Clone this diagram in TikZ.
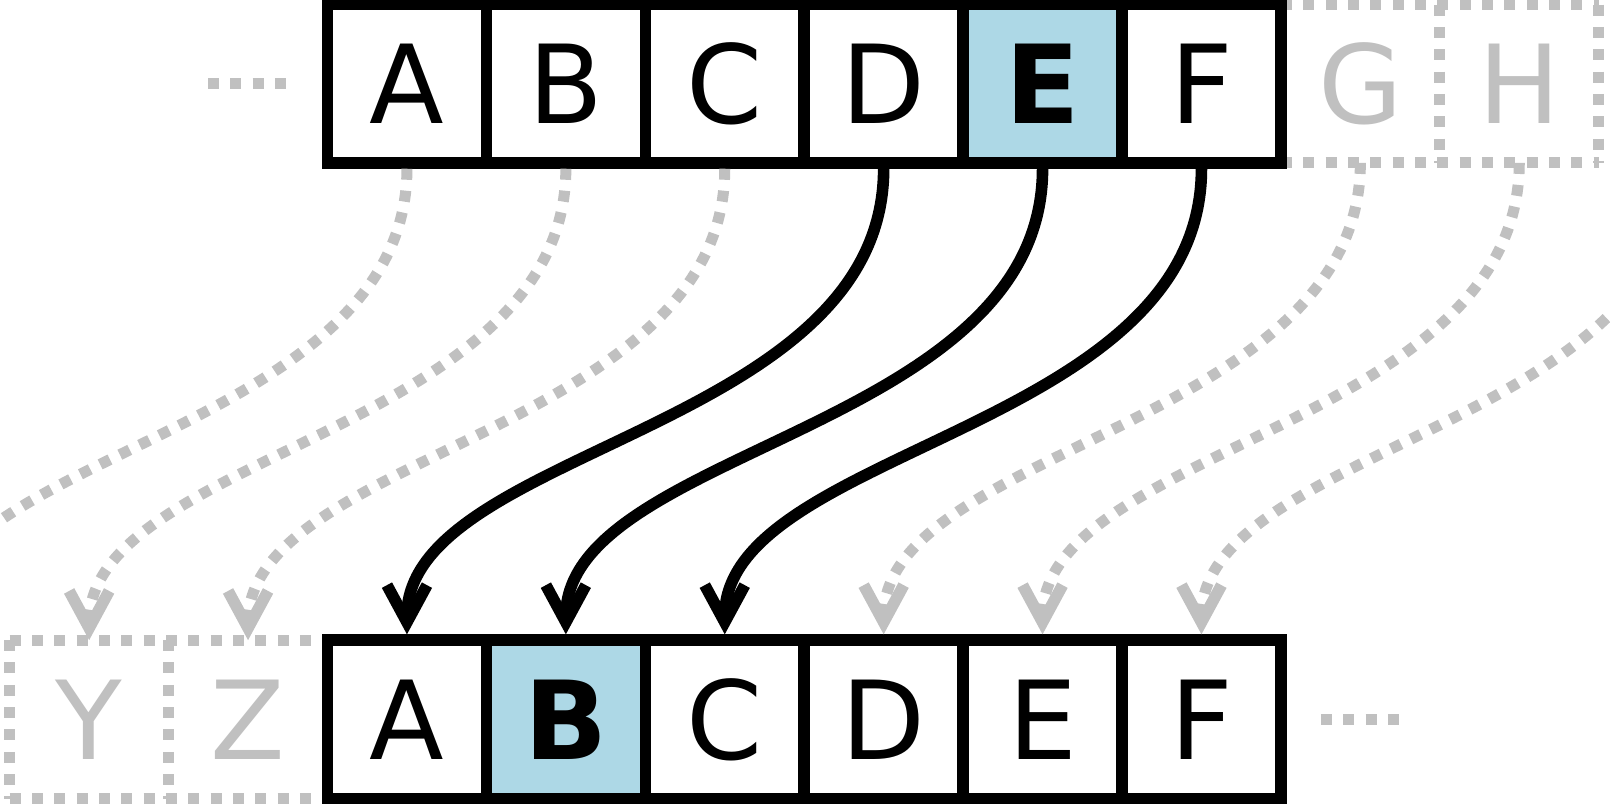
\documentclass[tikz,border=0pt]{standalone}
\usepackage{fontspec}
\setmainfont{DejaVu Sans}
\usetikzlibrary{arrows.meta}
\definecolor{ghostgray}{RGB}{192,192,192}
\definecolor{hlblue}{RGB}{173,216,230}
\begin{document}
\begin{tikzpicture}[x=1pt,y=1pt,
  letter/.style={font=\fontsize{109}{120}\selectfont},
  cell/.style={letter, draw=black, fill=white, line width=11.6pt, minimum width=158.9pt, minimum height=158.4pt, inner sep=0pt, text=black},
  hlcell/.style={cell, fill=hlblue, font=\fontsize{109}{120}\selectfont\bfseries},
  ghostcell/.style={letter, minimum width=158.9pt, minimum height=158.4pt, inner sep=0pt, outer sep=0pt, text=ghostgray},
  dots/.style={draw=ghostgray, line width=11pt, dash pattern=on 11pt off 11.33pt},
  link/.style={draw=black, line width=11.6pt, -{Straight Barb[length=37pt,width=40pt,line width=11.6pt 0]}},
  ghostlink/.style={link, draw=ghostgray, line width=11pt, dash pattern=on 11pt off 11pt},
  sway/.style={out=-90, in=90, out distance=262pt, in distance=186pt},
]
\useasboundingbox (0,0) rectangle (1610,807);
\fill[white] (0,0) rectangle (1610,807);
\clip (0,0) rectangle (1610,807);

% ghost cells
\node[ghostcell] (G1) at (1360.35,723.25) {G};
\node[ghostcell] (H1) at (1519.25,723.25) {H};
\node[ghostcell] (Y2) at (89.15,87.65) {Y};
\node[ghostcell] (Z2) at (248.05,87.65) {Z};
\coordinate (I1) at (1678.15,644.05);
\coordinate (X2) at (-69.75,166.85);

\draw[dots] (G1.north west) -- (H1.north east);
\draw[dots] (G1.south west) -- (H1.south east);
\draw[dots] (G1.north east) -- (G1.south east);
\draw[dots] (H1.north east) -- (H1.south east);
\draw[dots] (Y2.north west) -- (Z2.north east);
\draw[dots] (Y2.south west) -- (Z2.south east);
\draw[dots] (Y2.north west) -- (Y2.south west);
\draw[dots] (Y2.north east) -- (Y2.south east);

% top row
\node[cell]   (A1) at (406.95,723.25) {A};
\node[cell]   (B1) at (565.85,723.25) {B};
\node[cell]   (C1) at (724.75,723.25) {C};
\node[cell]   (D1) at (883.65,723.25) {D};
\node[hlcell] (E1) at (1042.55,723.25) {E};
\node[cell]   (F1) at (1201.45,723.25) {F};
% bottom row
\node[cell]   (A2) at (406.95,87.65) {A};
\node[hlcell] (B2) at (565.85,87.65) {B};
\node[cell]   (C2) at (724.75,87.65) {C};
\node[cell]   (D2) at (883.65,87.65) {D};
\node[cell]   (E2) at (1042.55,87.65) {E};
\node[cell]   (F2) at (1201.45,87.65) {F};

% ellipses
\draw[dots] ([xshift=-113.7pt]A1.west) -- ([xshift=-35.7pt]A1.west);
\draw[dots] ([xshift=34.2pt]F2.east) -- ([xshift=112.8pt]F2.east);

% shifted links
\draw[ghostlink] (A1.south) to[sway] (X2);
\draw[ghostlink] (B1.south) to[sway] (Y2.north);
\draw[ghostlink] (C1.south) to[sway] (Z2.north);
\draw[ghostlink] (G1.south) to[sway] (D2.north);
\draw[ghostlink] (H1.south) to[sway] (E2.north);
\draw[ghostlink] (I1) to[sway] (F2.north);
\draw[link] (D1.south) to[sway] (A2.north);
\draw[link] (E1.south) to[sway] (B2.north);
\draw[link] (F1.south) to[sway] (C2.north);
\end{tikzpicture}
\end{document}
